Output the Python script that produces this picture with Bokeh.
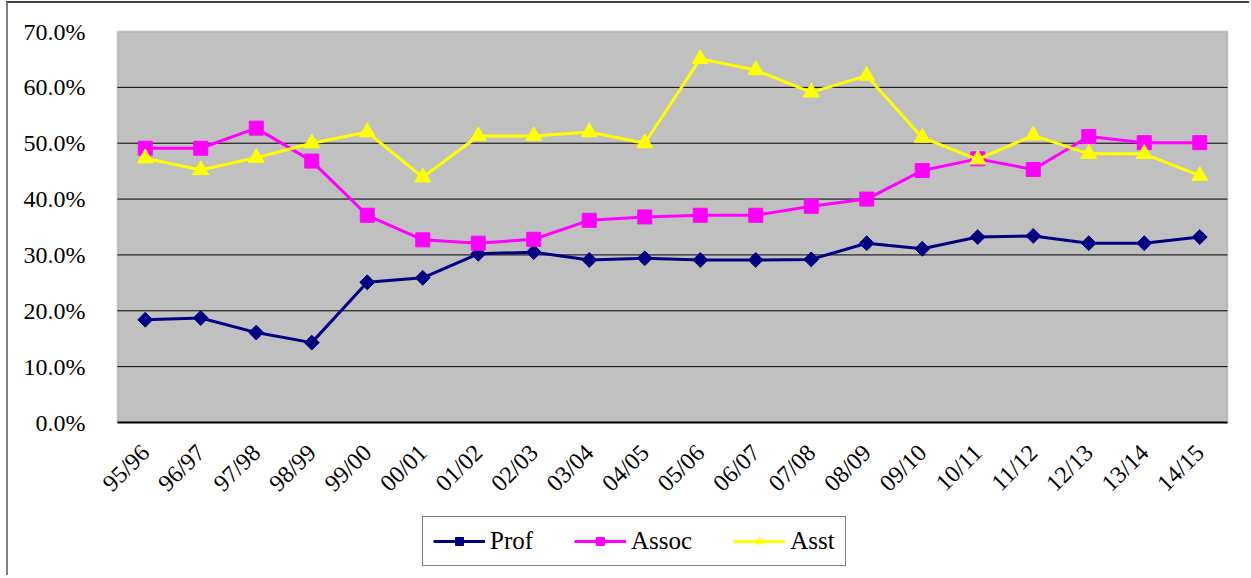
from bokeh.plotting import figure
from bokeh.models import (Range1d, FixedTicker, NumeralTickFormatter,
                          Legend, LegendItem, BoxAnnotation)
from bokeh.embed import file_html
from bokeh.resources import INLINE
import math

years = ["95/96", "96/97", "97/98", "98/99", "99/00", "00/01", "01/02", "02/03", "03/04", "04/05",
         "05/06", "06/07", "07/08", "08/09", "09/10", "10/11", "11/12", "12/13", "13/14", "14/15"]
prof = [0.184, 0.187, 0.161, 0.143, 0.251, 0.259, 0.302, 0.305, 0.291, 0.294,
        0.291, 0.291, 0.292, 0.321, 0.311, 0.332, 0.334, 0.321, 0.321, 0.332]
assoc = [0.491, 0.491, 0.527, 0.468, 0.371, 0.327, 0.321, 0.328, 0.362, 0.368,
         0.371, 0.371, 0.387, 0.400, 0.451, 0.472, 0.453, 0.512, 0.501, 0.501]
asst = [0.473, 0.452, 0.474, 0.500, 0.520, 0.439, 0.513, 0.513, 0.520, 0.500,
        0.651, 0.631, 0.591, 0.621, 0.510, 0.471, 0.514, 0.481, 0.481, 0.442]
y_ticks = [0.0, 0.1, 0.2, 0.3, 0.4, 0.5, 0.6, 0.7]
y_min, y_max = 0.0, 0.7

FONT = "Liberation Serif"

# ---- layout in pixels ----
W, H = 1243, 574          # canvas size
LEFT, TOP, RIGHT, BOTTOM = 2, 0, 0, 5    # borders around the (large) frame
AREA_LEFT_OFFSET = 107    # plot area starts this far into the frame
AREA_TOP_OFFSET = 28
AREA_W, AREA_H = 1110, 391

n = len(years)
xs = list(range(n))
cat_px = AREA_W / n
frame_w = W - LEFT - RIGHT
frame_h = H - TOP - BOTTOM
x_start = -0.5 - AREA_LEFT_OFFSET / cat_px
x_end = x_start + frame_w / cat_px
per_px = (y_max - y_min) / AREA_H
y_end = y_max + AREA_TOP_OFFSET * per_px
y_start = y_min - (frame_h - AREA_H - AREA_TOP_OFFSET) * per_px

p = figure(x_range=Range1d(x_start, x_end), y_range=Range1d(y_start, y_end),
           width=W, height=H, output_backend="svg", toolbar_location=None,
           min_border_left=LEFT, min_border_top=TOP, min_border_right=RIGHT,
           min_border_bottom=BOTTOM)
p.styles = {"margin-left": "6px", "margin-top": "1px",
            "border-left": "2px solid #808080", "border-top": "2px solid #404040"}
p.background_fill_color = "white"
p.border_fill_color = "white"
p.outline_line_color = None
p.grid.visible = False

# plot area (grey panel with grey border)
area = BoxAnnotation(left=-0.5, right=n - 0.5, bottom=y_min, top=y_max,
                     fill_color="#C0C0C0", fill_alpha=1.0,
                     line_color="#808080", line_width=2, level="image")
p.add_layout(area)

# horizontal gridlines limited to the plot area
grid_ticks = y_ticks[1:-1]
p.segment(x0=[-0.5] * len(grid_ticks), x1=[n - 0.5] * len(grid_ticks),
          y0=grid_ticks, y1=grid_ticks, line_color="black", line_width=1, level="underlay")

# y axis
p.yaxis.fixed_location = -0.5
p.yaxis.bounds = (y_min, y_max)
p.yaxis.ticker = FixedTicker(ticks=y_ticks)
p.yaxis.formatter = NumeralTickFormatter(format="0.0%")
p.yaxis.axis_line_color = None
p.yaxis.major_tick_line_color = None
p.yaxis.minor_tick_line_color = None
p.yaxis.major_label_standoff = 26
p.yaxis.major_label_text_font = FONT
p.yaxis.major_label_text_font_size = "24px"
p.yaxis.major_label_text_color = "black"

# x axis
p.xaxis.fixed_location = y_min
p.xaxis.bounds = (-0.5, n - 0.5)
p.xaxis.ticker = FixedTicker(ticks=xs)
p.xaxis.major_label_overrides = {i: y for i, y in zip(xs, years)}
p.xaxis.axis_line_color = "black"
p.xaxis.axis_line_width = 2
p.xaxis.major_tick_line_color = None
p.xaxis.minor_tick_line_color = None
p.xaxis.major_label_orientation = math.pi / 4
p.xaxis.major_label_standoff = 20
p.xaxis.major_label_text_font = FONT
p.xaxis.major_label_text_font_size = "24px"
p.xaxis.major_label_text_color = "black"

series = [("Prof", prof, "#000080", "square", 10.5, math.pi / 4),
          ("Assoc", assoc, "#FF00FF", "square", 14, 0.0),
          ("Asst", asst, "#FFFF00", "triangle", 16, 0.0)]
items = []
for name, vals, color, marker, size, ang in series:
    lr = p.line(xs, vals, line_color=color, line_width=3)
    sr = p.scatter(xs, vals, marker=marker, size=size, angle=ang,
                   fill_color=color, line_color=color)
    items.append(LegendItem(label=name, renderers=[lr, sr]))

legend = Legend(items=items, orientation="horizontal",
                location=(422 - 8 - LEFT, 6),
                label_text_font=FONT, label_text_font_size="25px", label_text_color="black",
                glyph_width=52, glyph_height=20, label_standoff=5, spacing=41, padding=10,
                margin=0, border_line_color="black", border_line_width=1,
                background_fill_color="white", background_fill_alpha=1.0)
p.add_layout(legend, "center")

open("out.html", "w").write(file_html(p, INLINE))
